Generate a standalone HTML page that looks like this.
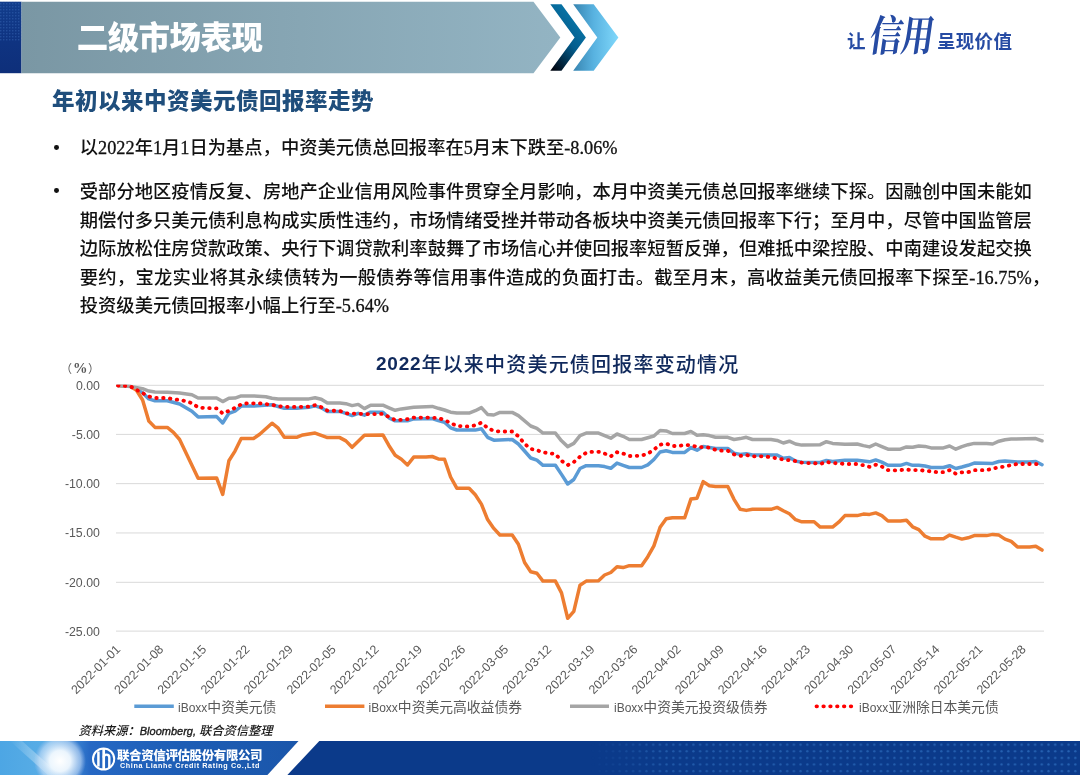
<!DOCTYPE html>
<html lang="zh-CN">
<head>
<meta charset="utf-8">
<title>二级市场表现</title>
<style>
*{margin:0;padding:0;box-sizing:border-box;}
html,body{width:1080px;height:775px;overflow:hidden;background:#fff;}
body{position:relative;font-family:"Liberation Sans","Noto Sans CJK SC",sans-serif;}
.abs{position:absolute;white-space:nowrap;}
#hdr-title{left:76.7px;top:13.8px;font-size:31.5px;line-height:48px;font-weight:900;color:#fff;font-family:"Liberation Sans","Noto Sans CJK SC",sans-serif;letter-spacing:-0.55px;}
#slogan{left:847px;top:18px;color:#264ba3;font-family:"Liberation Sans","Noto Sans CJK SC",sans-serif;}
#slogan .s{position:absolute;top:11.7px;font-size:18.5px;line-height:24px;white-space:nowrap;font-weight:700;}
#slogan .c{position:absolute;top:-7px;font-size:32.5px;line-height:40px;font-family:"Liberation Serif","Noto Serif CJK SC",serif;font-weight:700;transform:skewX(-8deg) scaleY(1.3);transform-origin:left top;white-space:nowrap;letter-spacing:-1px;}
#sec-title{left:52px;top:86px;font-size:22.5px;line-height:32px;font-weight:900;color:#1f4e7c;font-family:"Liberation Sans","Noto Sans CJK SC",sans-serif;letter-spacing:0.5px;}
.body{position:absolute;left:79.8px;font-size:18.3px;line-height:28.5px;color:#111;font-family:"Liberation Serif","Noto Sans CJK SC",serif;}
.body{font-weight:500;}
.body .n{-webkit-text-stroke:0.3px #111;}
.line{display:block;width:952px;white-space:nowrap;text-align:justify;text-align-last:justify;height:28.5px;}
.bullet{position:absolute;left:54px;width:4.8px;height:4.8px;border-radius:50%;background:#111;}
.ylab{position:absolute;right:980.2px;font-size:12.3px;line-height:14px;color:#595959;font-family:"Liberation Sans",sans-serif;text-align:right;}
#ctitle{left:376px;top:351px;font-size:20px;line-height:28px;font-weight:500;color:#10295c;font-family:"Liberation Sans","Noto Sans CJK SC",sans-serif;letter-spacing:1.2px;}
#ctitle .n{font-size:19px;font-weight:700;font-family:"Liberation Sans",sans-serif;letter-spacing:0.8px;position:relative;top:-2.3px;}
.leg{position:absolute;top:699px;font-size:13.8px;line-height:18px;color:#595959;font-family:"Liberation Sans","Noto Sans CJK SC",sans-serif;white-space:nowrap;}
.leg .l{font-family:"Liberation Sans",sans-serif;font-size:12px;}
#src{left:78.5px;top:720.8px;font-size:12.25px;line-height:20px;color:#1a1a1a;font-style:italic;font-weight:500;font-family:"Liberation Sans","Noto Sans CJK SC",sans-serif;}
#src .l{font-size:11px;font-weight:400;-webkit-text-stroke:0.35px #1a1a1a;}
#ft-cn{left:117px;top:746.5px;font-size:12.5px;line-height:18px;color:#fff;font-weight:900;font-family:"Liberation Sans","Noto Sans CJK SC",sans-serif;letter-spacing:-0.4px;}
#ft-en{left:120px;top:760.5px;font-size:7.2px;line-height:10px;color:#fff;font-weight:700;font-family:"Liberation Sans",sans-serif;letter-spacing:0.62px;}
</style>
</head>
<body>
<svg class="abs" style="left:0;top:0" width="1080" height="775" viewBox="0 0 1080 775">
<defs>
<linearGradient id="gbar" x1="0" y1="0" x2="1" y2="0">
<stop offset="0" stop-color="#7a97a4"/><stop offset="1" stop-color="#93b4c3"/>
</linearGradient>
<linearGradient id="gch1" x1="0.7" y1="0" x2="0.1" y2="1">
<stop offset="0" stop-color="#0a7db0"/><stop offset="0.5" stop-color="#035d8d"/><stop offset="1" stop-color="#000510"/>
</linearGradient>
<linearGradient id="gch2" x1="0" y1="0" x2="1" y2="0">
<stop offset="0" stop-color="#3784b0"/><stop offset="0.45" stop-color="#58b2e0"/><stop offset="1" stop-color="#80d8fb"/>
</linearGradient>
<linearGradient id="gsq" x1="0" y1="0" x2="0" y2="1">
<stop offset="0" stop-color="#123d8c"/><stop offset="0.5" stop-color="#0f3482"/><stop offset="1" stop-color="#0e2f7a"/>
</linearGradient>
<pattern id="pdots" x="0" y="0" width="3" height="3" patternUnits="userSpaceOnUse">
<rect x="0" y="0" width="1.4" height="1.4" fill="#3a6ab8" opacity="0.55"/>
</pattern>
<linearGradient id="gdotmask" x1="0" y1="0" x2="0" y2="1">
<stop offset="0" stop-color="#fff" stop-opacity="1"/><stop offset="0.55" stop-color="#fff" stop-opacity="0"/>
</linearGradient>
<linearGradient id="gft1" x1="0" y1="0" x2="300" y2="0" gradientUnits="userSpaceOnUse">
<stop offset="0" stop-color="#4da6e4"/><stop offset="0.17" stop-color="#5aaee6"/><stop offset="0.3" stop-color="#2668c4"/><stop offset="0.6" stop-color="#1d5db5"/><stop offset="1" stop-color="#1a56aa"/>
</linearGradient>
<radialGradient id="gglow" cx="60" cy="761" r="26" gradientUnits="userSpaceOnUse">
<stop offset="0" stop-color="#ffffff" stop-opacity="1"/><stop offset="0.4" stop-color="#f4faff" stop-opacity="0.95"/><stop offset="0.8" stop-color="#c8def8" stop-opacity="0.6"/><stop offset="1" stop-color="#b8c8f0" stop-opacity="0"/>
</radialGradient>
<linearGradient id="gstreak" x1="0" y1="0" x2="1" y2="0">
<stop offset="0" stop-color="#fff" stop-opacity="0"/><stop offset="0.5" stop-color="#fff" stop-opacity="0.5"/><stop offset="1" stop-color="#fff" stop-opacity="0"/>
</linearGradient>
<pattern id="pmap" x="0" y="743.5" width="6.7" height="6.6" patternUnits="userSpaceOnUse">
<circle cx="3.3" cy="1.2" r="1.15" fill="#3070c0" opacity="0.75"/>
</pattern>
<linearGradient id="gmapfade" x1="0" y1="0" x2="1" y2="0">
<stop offset="0" stop-color="#fff" stop-opacity="0"/><stop offset="0.15" stop-color="#fff" stop-opacity="0.8"/><stop offset="1" stop-color="#fff" stop-opacity="1"/>
</linearGradient>
<mask id="mmap"><rect x="590" y="741" width="490" height="34" fill="url(#gmapfade)"/></mask>
</defs>
<!-- header -->
<rect x="0" y="1.7" width="21.5" height="71.5" fill="url(#gsq)"/>
<rect x="0" y="1.7" width="21.5" height="40" fill="url(#pdots)" opacity="0.8"/>
<polygon points="21.5,1.7 533.5,1.7 560.3,37.4 533.5,73.2 21.5,73.2" fill="url(#gbar)"/>
<polygon points="550.3,4.3 561.5,4.3 585.9,37.4 561.5,70.7 550.3,70.7 574.6,37.4" fill="url(#gch1)"/>
<polygon points="573.2,4.3 593.7,4.3 618.4,37.4 593.7,70.7 573.2,70.7 597.3,37.4" fill="url(#gch2)"/>
<!-- chart gridlines -->
<g stroke="#d9d9d9" stroke-width="1">
<line x1="116" y1="385.3" x2="1044" y2="385.3"/>
<line x1="116" y1="434.4" x2="1044" y2="434.4"/>
<line x1="116" y1="483.65" x2="1044" y2="483.65"/>
<line x1="116" y1="532.95" x2="1044" y2="532.95"/>
<line x1="116" y1="582.3" x2="1044" y2="582.3"/>
<line x1="116" y1="631.1" x2="1044" y2="631.1"/>
</g>
<clipPath id="cplot"><rect x="110" y="384.7" width="940" height="260"/></clipPath>
<g fill="none" stroke-linejoin="round" stroke-linecap="round" clip-path="url(#cplot)">
<polyline stroke="#5b9bd5" stroke-width="3.5" points="118.0,385.5 130.3,386.3 142.6,392.7 148.8,398.9 155.0,400.8 167.3,400.8 179.6,404.0 191.9,411.3 198.1,416.9 216.6,416.6 222.7,423.0 228.9,413.3 235.0,411.1 241.2,406.1 253.5,406.1 272.0,404.7 284.3,408.3 296.6,408.3 309.0,407.2 315.1,405.9 321.3,407.8 327.4,411.4 339.8,411.4 345.9,413.3 352.1,415.6 358.2,413.3 364.4,415.2 370.6,412.2 382.9,412.2 389.0,417.8 395.2,420.8 407.5,420.8 413.7,418.9 432.2,418.6 438.3,420.6 444.5,422.2 450.6,427.8 456.8,430.0 475.3,430.1 481.4,428.8 487.6,437.3 493.8,440.2 512.2,439.5 518.4,444.0 530.7,458.0 536.9,460.2 543.0,465.3 555.4,465.3 561.5,474.4 567.7,484.0 573.8,479.5 580.0,468.5 586.2,465.7 598.5,465.7 604.6,466.6 610.8,468.3 617.0,463.1 623.1,465.3 629.3,467.5 641.6,467.5 647.8,464.9 653.9,459.5 660.1,452.0 666.2,450.7 672.4,452.4 684.7,452.4 690.9,447.6 697.0,450.2 703.2,446.4 715.5,448.5 727.8,448.5 734.0,453.1 740.2,454.4 746.3,453.7 752.5,455.0 777.1,455.0 783.3,458.2 789.4,457.6 795.6,461.1 801.8,462.2 820.2,462.4 826.4,460.5 832.6,461.5 844.9,460.2 857.2,460.2 869.5,461.8 875.7,459.9 881.8,462.1 888.0,465.3 900.3,465.3 906.5,463.4 912.6,465.3 918.8,465.3 925.0,466.0 931.1,467.5 943.4,467.5 949.6,465.7 955.8,468.5 961.9,467.0 968.1,465.3 974.2,463.1 992.7,463.4 998.9,461.5 1005.0,461.1 1011.2,461.5 1017.4,462.1 1029.7,462.1 1035.8,461.5 1042.0,464.7"/>
<polyline stroke="#ed7d31" stroke-width="3.5" points="118.0,385.5 130.3,386.3 136.5,390.3 142.6,400.0 148.8,421.0 155.0,427.4 167.3,427.4 173.4,432.3 179.6,439.5 198.1,478.2 216.6,477.9 222.7,494.4 228.9,460.7 235.0,451.1 241.2,438.5 253.5,438.5 259.7,434.3 272.0,423.2 278.2,428.2 284.3,437.3 296.6,437.3 302.8,434.9 315.1,433.1 327.4,437.6 339.8,437.6 345.9,440.9 352.1,447.3 364.4,435.2 382.9,434.9 389.0,445.7 395.2,455.3 401.4,459.3 407.5,465.0 413.7,457.1 426.0,457.1 432.2,456.5 438.3,458.9 444.5,459.3 450.6,477.0 456.8,488.2 469.1,488.2 475.3,494.8 481.4,504.1 487.6,519.6 493.8,528.4 499.9,535.0 512.2,535.0 518.4,544.3 524.6,562.5 530.7,571.8 536.9,573.2 543.0,581.1 555.4,581.1 561.5,592.9 567.7,618.3 573.8,611.4 580.0,585.2 586.2,581.1 598.5,580.7 604.6,575.0 610.8,572.5 617.0,566.8 623.1,567.6 629.3,565.7 641.6,565.7 647.8,556.7 653.9,545.9 660.1,527.3 666.2,518.8 672.4,517.7 684.7,517.7 690.9,499.1 697.0,498.2 703.2,481.6 709.4,485.8 715.5,486.4 727.8,486.4 734.0,499.3 740.2,509.3 746.3,510.4 752.5,509.3 771.0,509.3 777.1,507.4 783.3,510.8 789.4,513.8 795.6,519.7 801.8,521.8 814.1,521.8 820.2,527.1 832.6,527.1 838.7,522.2 844.9,515.6 857.2,515.6 863.4,514.1 869.5,514.4 875.7,512.9 881.8,515.6 888.0,521.0 900.3,521.0 906.5,520.2 912.6,526.8 918.8,529.6 925.0,536.2 931.1,538.8 943.4,538.8 949.6,535.1 955.8,537.2 961.9,539.1 968.1,537.8 974.2,535.6 986.6,535.6 992.7,534.4 998.9,535.1 1005.0,539.1 1011.2,541.4 1017.4,546.9 1029.7,546.9 1035.8,546.2 1042.0,550.1"/>
<polyline stroke="#a5a5a5" stroke-width="3.5" points="118.0,385.5 130.3,386.6 142.6,388.7 148.8,391.1 155.0,392.0 167.3,392.3 179.6,393.0 191.9,394.7 198.1,398.0 216.6,398.0 222.7,401.6 228.9,398.3 235.0,398.1 241.2,395.9 253.5,395.9 265.8,396.7 272.0,398.3 278.2,398.9 309.0,398.9 315.1,397.8 321.3,399.2 327.4,403.0 339.8,403.0 345.9,403.7 352.1,405.6 358.2,404.4 364.4,408.6 370.6,405.2 382.9,405.2 389.0,407.8 395.2,410.3 401.4,408.9 413.7,407.2 432.2,406.4 438.3,408.3 444.5,410.0 450.6,412.2 456.8,413.0 469.1,413.1 475.3,410.7 481.4,407.6 487.6,414.4 493.8,415.0 499.9,412.4 512.2,412.4 518.4,415.6 530.7,426.0 536.9,428.3 543.0,433.1 555.4,433.1 561.5,440.8 567.7,446.6 573.8,443.4 580.0,435.6 586.2,433.1 598.5,433.1 610.8,438.2 617.0,434.0 623.1,436.3 629.3,439.5 641.6,439.5 653.9,436.0 660.1,430.5 666.2,430.9 672.4,433.5 684.7,433.5 690.9,431.4 697.0,435.3 703.2,434.7 709.4,435.6 715.5,437.3 727.8,437.3 734.0,439.5 740.2,438.6 746.3,437.3 752.5,439.5 771.0,439.5 777.1,440.4 783.3,443.0 789.4,441.2 795.6,444.0 801.8,445.1 820.2,444.7 826.4,441.7 832.6,443.4 844.9,444.3 857.2,444.0 863.4,445.6 869.5,446.9 875.7,444.0 881.8,446.6 888.0,449.2 900.3,449.2 906.5,446.9 912.6,447.3 918.8,446.0 925.0,446.4 931.1,447.9 943.4,447.9 949.6,446.0 955.8,449.2 961.9,446.6 968.1,444.7 974.2,443.4 986.6,443.4 992.7,444.0 998.9,441.2 1005.0,439.8 1011.2,439.1 1035.8,438.6 1042.0,440.8"/>
<polyline stroke="#ff0000" stroke-width="3.8" stroke-dasharray="0.5 6.35" points="118.0,385.5 130.3,386.3 136.5,389.8 148.8,396.5 155.0,398.0 167.3,398.0 173.4,399.2 179.6,400.0 185.8,401.1 191.9,403.2 198.1,407.3 204.2,408.0 216.6,408.4 222.7,413.4 228.9,410.8 235.0,407.8 241.2,404.4 247.4,403.3 259.7,403.3 265.8,404.1 272.0,404.8 278.2,406.3 290.5,407.0 309.0,406.7 315.1,405.2 321.3,407.2 327.4,410.6 339.8,410.9 345.9,413.3 358.2,413.7 364.4,413.9 370.6,414.4 376.7,413.9 382.9,413.9 389.0,417.0 395.2,420.0 401.4,419.8 407.5,419.2 413.7,417.6 426.0,417.6 438.3,418.1 444.5,420.0 450.6,423.0 456.8,425.9 463.0,426.4 469.1,426.4 475.3,425.3 481.4,422.7 487.6,427.9 493.8,430.9 499.9,431.5 512.2,431.5 518.4,436.3 524.6,443.8 530.7,448.9 536.9,450.2 543.0,452.4 555.4,454.0 561.5,460.8 567.7,465.1 573.8,462.1 580.0,456.7 586.2,452.8 592.3,451.8 598.5,451.8 604.6,453.5 610.8,456.3 617.0,452.2 623.1,453.5 629.3,456.0 635.4,456.0 641.6,455.6 647.8,453.7 653.9,449.6 660.1,444.7 666.2,443.6 672.4,446.0 678.6,446.0 684.7,444.9 690.9,445.3 697.0,446.9 709.4,447.6 715.5,449.8 721.7,450.7 727.8,450.7 734.0,454.4 740.2,455.9 746.3,455.0 752.5,456.3 764.8,456.3 771.0,457.3 783.3,459.5 789.4,460.2 795.6,461.1 801.8,462.7 807.9,463.1 814.1,463.1 820.2,464.0 826.4,461.8 832.6,463.1 838.7,463.4 844.9,464.0 857.2,464.0 863.4,465.3 869.5,466.9 875.7,464.7 881.8,466.6 888.0,470.2 894.2,470.5 900.3,470.1 906.5,469.6 912.6,470.1 918.8,470.1 931.1,471.4 937.3,472.2 943.4,472.2 949.6,470.2 955.8,473.7 961.9,472.4 968.1,472.2 974.2,470.2 986.6,470.2 992.7,468.5 1005.0,466.4 1011.2,465.1 1017.4,464.0 1035.8,464.0 1042.0,464.5"/>
</g>
<!-- x labels -->
<g font-family="Liberation Sans, sans-serif" font-size="12.4" fill="#595959" text-anchor="end">
<text transform="translate(118.0,647) rotate(-45)" y="4.3">2022-01-01</text>
<text transform="translate(161.1,647) rotate(-45)" y="4.3">2022-01-08</text>
<text transform="translate(204.2,647) rotate(-45)" y="4.3">2022-01-15</text>
<text transform="translate(247.4,647) rotate(-45)" y="4.3">2022-01-22</text>
<text transform="translate(290.5,647) rotate(-45)" y="4.3">2022-01-29</text>
<text transform="translate(333.6,647) rotate(-45)" y="4.3">2022-02-05</text>
<text transform="translate(376.7,647) rotate(-45)" y="4.3">2022-02-12</text>
<text transform="translate(419.8,647) rotate(-45)" y="4.3">2022-02-19</text>
<text transform="translate(463.0,647) rotate(-45)" y="4.3">2022-02-26</text>
<text transform="translate(506.1,647) rotate(-45)" y="4.3">2022-03-05</text>
<text transform="translate(549.2,647) rotate(-45)" y="4.3">2022-03-12</text>
<text transform="translate(592.3,647) rotate(-45)" y="4.3">2022-03-19</text>
<text transform="translate(635.4,647) rotate(-45)" y="4.3">2022-03-26</text>
<text transform="translate(678.6,647) rotate(-45)" y="4.3">2022-04-02</text>
<text transform="translate(721.7,647) rotate(-45)" y="4.3">2022-04-09</text>
<text transform="translate(764.8,647) rotate(-45)" y="4.3">2022-04-16</text>
<text transform="translate(807.9,647) rotate(-45)" y="4.3">2022-04-23</text>
<text transform="translate(851.0,647) rotate(-45)" y="4.3">2022-04-30</text>
<text transform="translate(894.2,647) rotate(-45)" y="4.3">2022-05-07</text>
<text transform="translate(937.3,647) rotate(-45)" y="4.3">2022-05-14</text>
<text transform="translate(980.4,647) rotate(-45)" y="4.3">2022-05-21</text>
<text transform="translate(1023.5,647) rotate(-45)" y="4.3">2022-05-28</text>
</g>
<!-- legend lines -->
<g stroke-width="3.5" stroke-linecap="butt">
<line x1="134.3" y1="706.3" x2="173.8" y2="706.3" stroke="#5b9bd5"/>
<line x1="325" y1="706.3" x2="364.4" y2="706.3" stroke="#ed7d31"/>
<line x1="570" y1="706.3" x2="609" y2="706.3" stroke="#a5a5a5"/>
<line x1="816.5" y1="706.3" x2="854" y2="706.3" stroke="#ff0000" stroke-dasharray="0.5 6.35" stroke-linecap="round" stroke-width="3.8"/>
</g>
<!-- footer -->
<rect x="0" y="741" width="1080" height="34" fill="#0b3a8a"/>
<rect x="590" y="741" width="490" height="34" fill="url(#pmap)" mask="url(#mmap)"/>
<polygon points="0,741 298.5,741 267.4,775 0,775" fill="url(#gft1)"/>
<polygon points="0,741 298.5,741 267.4,775 0,775" fill="url(#gglow)"/>
<polygon points="10,741 22,741 60,775 48,775" fill="url(#gstreak)" opacity="0.6"/>
<polygon points="298.5,741 319.3,741 287.4,775 267.4,775" fill="#ffffff"/>
<circle cx="103.6" cy="759" r="10.6" fill="none" stroke="#fff" stroke-width="2"/>
<g stroke="#fff" fill="none">
<line x1="98.4" y1="751.5" x2="98.4" y2="766.5" stroke-width="2.5"/>
<line x1="103.7" y1="748.5" x2="103.7" y2="769.5" stroke-width="2.7"/>
<path d="M103.7 757.5 Q103.7 754.6 106.5 754.6 Q109.3 754.6 109.3 757.5 L109.3 768" stroke-width="2.4"/>
</g>
</svg>

<div id="hdr-title" class="abs">二级市场表现</div>
<div id="slogan" class="abs">
<span class="s" style="left:0">让</span>
<span class="c" style="left:27px">信用</span>
<span class="s" style="left:90px;letter-spacing:0.3px">呈现价值</span>
</div>
<div id="sec-title" class="abs">年初以来中资美元债回报率走势</div>

<div class="bullet" style="top:145px"></div>
<div class="body" style="top:134.3px"><span style="white-space:nowrap">以<span class="n">2022</span>年<span class="n">1</span>月<span class="n">1</span>日为基点，中资美元债总回报率在<span class="n">5</span>月末下跌至<span class="n">-8.06%</span></span></div>

<div class="bullet" style="top:188px"></div>
<div class="body" style="top:178.1px">
<span class="line">受部分地区疫情反复、房地产企业信用风险事件贯穿全月影响，本月中资美元债总回报率继续下探。因融创中国未能如</span>
<span class="line">期偿付多只美元债利息构成实质性违约，市场情绪受挫并带动各板块中资美元债回报率下行；至月中，尽管中国监管层</span>
<span class="line">边际放松住房贷款政策、央行下调贷款利率鼓舞了市场信心并使回报率短暂反弹，但难抵中梁控股、中南建设发起交换</span>
<span class="line" style="position:relative">要约，宝龙实业将其永续债转为一般债券等信用事件造成的负面打击。截至月末，高收益美元债回报率下探至<span class="n">-16.75%</span><span style="position:absolute;left:952px;top:0">，</span></span>
<span class="line" style="text-align:left;text-align-last:left">投资级美元债回报率小幅上行至<span class="n">-5.64%</span></span>
</div>

<div id="ctitle" class="abs"><span class="n">2022</span>年以来中资美元债回报率变动情况</div>
<div class="abs" style="left:60.5px;top:360.5px;font-family:'Liberation Sans','Noto Sans CJK SC',sans-serif;font-size:11.5px;line-height:16px;color:#595959;">（</div>
<div class="abs" style="left:73px;top:359.5px;font-family:'Liberation Serif',serif;font-size:14.5px;line-height:16px;font-weight:700;color:#595959;">%</div>
<div class="abs" style="left:88px;top:360.5px;font-family:'Liberation Sans','Noto Sans CJK SC',sans-serif;font-size:11.5px;line-height:16px;color:#595959;">）</div>
<div class="ylab" style="top:378.8px">0.00</div>
<div class="ylab" style="top:428px">-5.00</div>
<div class="ylab" style="top:477px">-10.00</div>
<div class="ylab" style="top:526.3px">-15.00</div>
<div class="ylab" style="top:575.6px">-20.00</div>
<div class="ylab" style="top:624.8px">-25.00</div>

<div class="leg" style="left:178px"><span class="l">iBoxx</span>中资美元债</div>
<div class="leg" style="left:368.5px"><span class="l">iBoxx</span>中资美元高收益债券</div>
<div class="leg" style="left:614px"><span class="l">iBoxx</span>中资美元投资级债券</div>
<div class="leg" style="left:859px"><span class="l">iBoxx</span>亚洲除日本美元债</div>

<div id="src" class="abs">资料来源：<span class="l">Bloomberg, </span>联合资信整理</div>
<div id="ft-cn" class="abs">联合资信评估股份有限公司</div>
<div id="ft-en" class="abs">China Lianhe Credit Rating Co.,Ltd</div>
</body>
</html>
